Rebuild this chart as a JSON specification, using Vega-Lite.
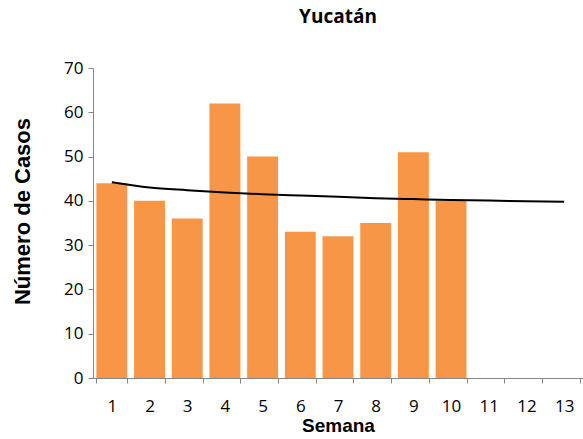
{
  "$schema": "https://vega.github.io/schema/vega-lite/v6.json",
  "autosize": "none",
  "width": 490,
  "height": 310,
  "padding": {"left": 93, "top": 68, "right": 0, "bottom": 61},
  "background": "white",
  "title": {"text": "Yucatán", "font": "Open Sans", "fontSize": 19, "fontWeight": "bold", "color": "black", "offset": 32, "anchor": "middle"},
  "data": {"values": [
    {"semana": 1, "casos": 44, "tendencia": 44.2},
    {"semana": 2, "casos": 40, "tendencia": 43.0},
    {"semana": 3, "casos": 36, "tendencia": 42.4},
    {"semana": 4, "casos": 62, "tendencia": 41.9},
    {"semana": 5, "casos": 50, "tendencia": 41.5},
    {"semana": 6, "casos": 33, "tendencia": 41.2},
    {"semana": 7, "casos": 32, "tendencia": 40.9},
    {"semana": 8, "casos": 35, "tendencia": 40.6},
    {"semana": 9, "casos": 51, "tendencia": 40.4},
    {"semana": 10, "casos": 40, "tendencia": 40.2},
    {"semana": 11, "casos": null, "tendencia": 40.1},
    {"semana": 12, "casos": null, "tendencia": 39.9},
    {"semana": 13, "casos": null, "tendencia": 39.8}
  ]},
  "encoding": {
    "x": {
      "field": "semana", "type": "ordinal",
      "scale": {"paddingInner": 0.18, "paddingOuter": 0.09},
      "axis": {
        "title": "Semana", "labelAngle": 0, "tickBand": "extent",
        "domainColor": "#868686", "tickColor": "#868686", "tickSize": 5,
        "labelFont": "Open Sans", "labelFontSize": 17, "labelColor": "black", "labelPadding": 15,
        "titleFont": "Liberation Sans", "titleFontSize": 19, "titleFontWeight": "bold", "titleColor": "black", "titlePadding": 2
      }
    }
  },
  "layer": [
    {
      "mark": {"type": "bar", "color": "#F79646"},
      "encoding": {
        "y": {
          "field": "casos", "type": "quantitative",
          "scale": {"domain": [0, 70]},
          "axis": {
            "title": "Número de Casos", "values": [0, 10, 20, 30, 40, 50, 60, 70], "grid": false,
            "domainColor": "#868686", "tickColor": "#868686", "tickSize": 5,
            "labelFont": "Open Sans", "labelFontSize": 17, "labelColor": "black", "labelPadding": 5,
            "titleFont": "Liberation Sans", "titleFontSize": 22, "titleFontWeight": "bold", "titleColor": "black", "titlePadding": 29, "titleY": 143
          }
        }
      }
    },
    {
      "mark": {"type": "line", "color": "black", "strokeWidth": 2, "interpolate": "monotone"},
      "encoding": {
        "y": {"field": "tendencia", "type": "quantitative"}
      }
    }
  ],
  "config": {"view": {"stroke": null}}
}
